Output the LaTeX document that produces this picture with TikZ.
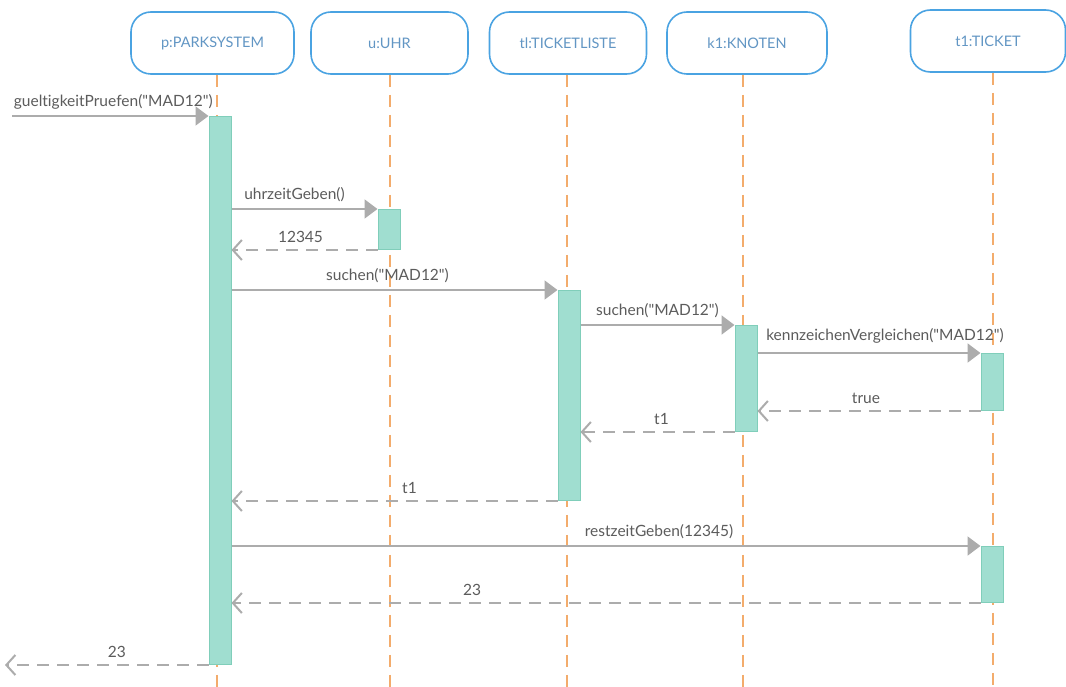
\documentclass[tikz,border=0pt]{standalone}
\usepackage{fontspec}
\setmainfont{Lato}[Ligatures=NoCommon]
\usetikzlibrary{arrows.meta}
\definecolor{headblue}{RGB}{74,163,226}
\definecolor{headtext}{RGB}{98,150,196}
\definecolor{barfill}{RGB}{160,222,208}
\definecolor{barline}{RGB}{128,206,186}
\definecolor{lifeorange}{RGB}{243,172,108}
\definecolor{msggray}{RGB}{172,172,172}
\definecolor{lblgray}{RGB}{92,92,92}

\begin{document}
\begin{tikzpicture}[
  x=1pt, y=-1pt,
  font=\fontsize{15.5}{18}\selectfont,
  head/.style={draw=headblue, line width=1.6pt, rounded corners=20pt,
               minimum height=62pt, text=headtext, font=\fontsize{14.5}{17}\selectfont},
  bar/.style={draw=barline, fill=barfill, line width=1pt, minimum width=22pt,
              inner sep=0pt, anchor=north},
  life/.style={draw=lifeorange, line width=1.8pt, dash pattern=on 12pt off 8pt},
  msg/.style={draw=msggray, line width=2pt, -{Triangle[length=13pt,width=19pt]}},
  ret/.style={draw=msggray, line width=2pt, dash pattern=on 12pt off 8pt,
              -{Straight Barb[length=9pt,width=20pt,line width=2pt]}},
  lbl/.style={text=lblgray, above, inner sep=6pt}
]
\fill[white] (0,0) rectangle (1066,687);
\useasboundingbox (0,0) rectangle (1066,687);

% objects
\node[head, minimum width=163pt] (hp)  at (212.5,43) {p:PARKSYSTEM};
\node[head, minimum width=157pt] (hu)  at (389.5,43) {u:UHR};
\node[head, minimum width=157pt] (htl) at (568,43)   {tl:TICKETLISTE};
\node[head, minimum width=160pt] (hk)  at (747,43)   {k1:KNOTEN};
\node[head, minimum width=155pt] (ht)  at (988,41)   {t1:TICKET};

% lifelines
\coordinate (lp)  at (217,687);
\coordinate (lu)  at (390,687);
\coordinate (ltl) at (567,687);
\coordinate (lk)  at (743,687);
\coordinate (lt)  at (993,687);
\draw[life] (hp.south -| lp)   -- (lp);
\draw[life] (hu.south -| lu)   -- (lu);
\draw[life] (htl.south -| ltl) -- (ltl);
\draw[life] (hk.south -| lk)   -- (lk);
\draw[life] (ht.south -| lt)   -- (lt);

% activations
\node[bar, minimum height=548pt] (ap)  at (220,116) {};
\node[bar, minimum height=40pt]  (au)  at (389,209) {};
\node[bar, minimum height=210pt] (atl) at (569,290) {};
\node[bar, minimum height=106pt] (ak)  at (746,325) {};
\node[bar, minimum height=57pt]  (at1) at (992,353) {};
\node[bar, minimum height=56pt]  (at2) at (992,546) {};

\coordinate (in)  at (12,0);
\coordinate (out) at (5,0);

% messages
\draw[msg] (in |- ap.north west) -- (ap.north west)
  node[lbl, midway, xshift=3pt] {gueltigkeitPruefen(\textquotedbl MAD12\textquotedbl)};
\draw[msg] (ap.east |- au.north west) -- (au.north west)
  node[lbl, midway, xshift=-10pt] {uhrzeitGeben()};
\draw[ret] (au.south west) -- (ap.east |- au.south west)
  node[lbl, midway, xshift=-4pt] {12345};
\draw[msg] (ap.east |- atl.north west) -- (atl.north west)
  node[lbl, midway, xshift=-7pt] {suchen(\textquotedbl MAD12\textquotedbl)};
\draw[msg] (atl.east |- ak.north west) -- (ak.north west)
  node[lbl, midway] {suchen(\textquotedbl MAD12\textquotedbl)};
\draw[msg] (ak.east |- at1.north west) -- (at1.north west)
  node[lbl, midway, xshift=16pt, inner sep=9pt] {kennzeichenVergleichen(\textquotedbl MAD12\textquotedbl)};
\draw[ret] (at1.south west) -- (ak.east |- at1.south west)
  node[lbl, midway, xshift=-3pt] {true};
\draw[ret] (ak.south west) -- (atl.east |- ak.south west)
  node[lbl, midway, xshift=4pt] {t1};
\draw[ret] (atl.south west) -- (ap.east |- atl.south west)
  node[lbl, midway, xshift=15pt] {t1};
\draw[msg] (ap.east |- at2.north west) -- (at2.north west)
  node[lbl, midway, xshift=53pt] {restzeitGeben(12345)};
\draw[ret] (at2.south west) -- (ap.east |- at2.south west)
  node[lbl, midway, xshift=-134pt] {23};
\draw[ret] (ap.south west) -- (out |- ap.south west)
  node[lbl, midway, xshift=10pt] {23};

\end{tikzpicture}
\end{document}
